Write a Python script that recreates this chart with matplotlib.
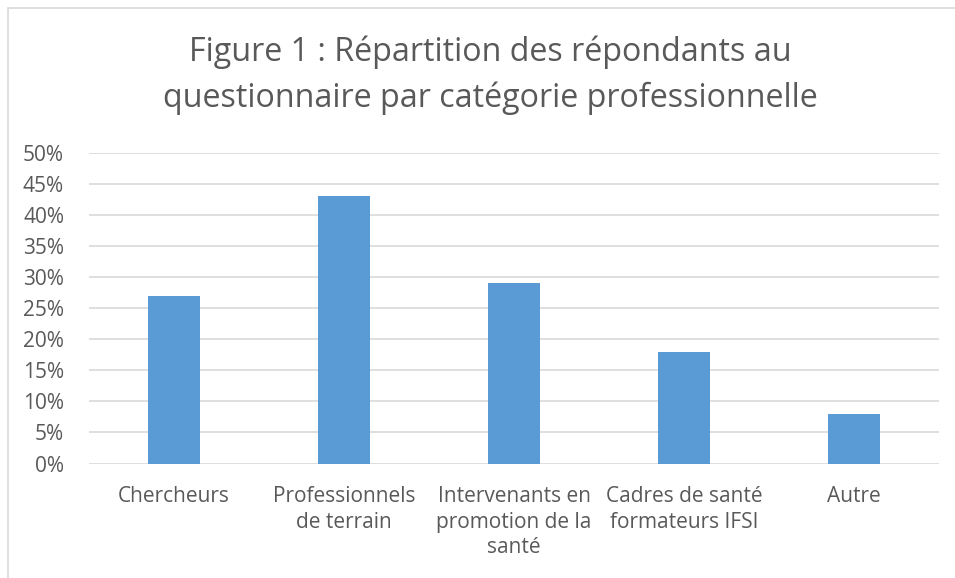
import matplotlib.pyplot as plt
from matplotlib.patches import Rectangle
from matplotlib.ticker import FuncFormatter

categories = ["Chercheurs", "Professionnels\nde terrain", "Intervenants en\npromotion de la\nsanté",
              "Cadres de santé\nformateurs IFSI", "Autre"]
values = [0.27, 0.43, 0.29, 0.18, 0.08]
yticks = [0.0, 0.05, 0.10, 0.15, 0.20, 0.25, 0.30, 0.35, 0.40, 0.45, 0.50]

plt.rcParams['font.family'] = ['Open Sans', 'DejaVu Sans']
txt = '#595959'

fig = plt.figure(figsize=(9.55, 5.78), dpi=100)
fig.patches.append(Rectangle((7.5 / 955, -0.1), 1.2, 1.1 - 8.5 / 578, transform=fig.transFigure,
                             fill=False, edgecolor='#D9D9D9', linewidth=1.2))

ax = fig.add_axes([89 / 955, 1 - 463.5 / 578, 850 / 955, 310.5 / 578])
x = list(range(len(categories)))
ax.bar(x, values, width=0.31, color='#5B9BD5', zorder=3)
ax.set_xlim(-0.5, len(categories) - 0.5)
ax.set_ylim(0, 0.5)
ax.set_yticks(yticks)
ax.yaxis.set_major_formatter(FuncFormatter(lambda v, p: f"{round(v * 100)}%"))
ax.grid(axis='y', color='#D9D9D9', linewidth=1.2, zorder=0)
for s in ax.spines.values():
    s.set_visible(False)
ax.tick_params(axis='both', length=0, labelsize=15, colors=txt)
ax.tick_params(axis='y', pad=18)
ax.set_xticks(x)
ax.set_xticklabels(categories, linespacing=1.3)
ax.tick_params(axis='x', pad=16)

fig.text(0.513, 1 - 75 / 578, "Figure 1 : Répartition des répondants au\nquestionnaire par catégorie professionnelle",
         ha='center', va='center', fontsize=23.2, color=txt, linespacing=1.5)

fig.savefig('out.png', dpi=100)
